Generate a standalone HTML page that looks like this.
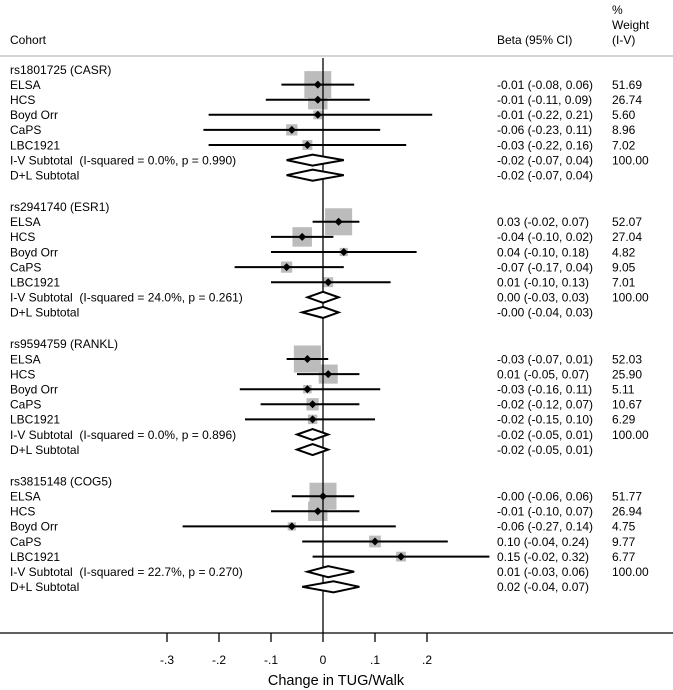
<!DOCTYPE html>
<html><head><meta charset="utf-8"><style>
html,body{margin:0;padding:0;background:#fff;}
svg{display:block;font-family:"Liberation Sans",Arial,sans-serif;}
text{white-space:pre;}
</style></head><body>
<svg id="chart" width="673" height="690" viewBox="0 0 673 690" xmlns="http://www.w3.org/2000/svg">
<g id="hdr" font-size="12" fill="#000">
<text x="10" y="44">Cohort</text>
<text x="497" y="44">Beta (95% CI)</text>
<text x="612" y="14">%</text>
<text x="612" y="29">Weight</text>
<text x="612" y="44">(I-V)</text>
</g>
<line x1="0" y1="56" x2="673" y2="56" stroke="#bbb" stroke-width="1.2"/>
<g id="marks"></g>
<g id="axis"></g>
</svg>
<script>
const groupNames=["rs1801725 (CASR)","rs2941740 (ESR1)","rs9594759 (RANKL)","rs3815148 (COG5)"];
const cohorts=["ELSA","HCS","Boyd Orr","CaPS","LBC1921"];
const betas=[[-0.01,-0.01,-0.01,-0.06,-0.03],[0.03,-0.04,0.04,-0.07,0.01],[-0.03,0.01,-0.03,-0.02,-0.02],[-0.00,-0.01,-0.06,0.10,0.15]];
const lows=[[-0.08,-0.11,-0.22,-0.23,-0.22],[-0.02,-0.10,-0.10,-0.17,-0.10],[-0.07,-0.05,-0.16,-0.12,-0.15],[-0.06,-0.10,-0.27,-0.04,-0.02]];
const highs=[[0.06,0.09,0.21,0.11,0.16],[0.07,0.02,0.18,0.04,0.13],[0.01,0.07,0.11,0.07,0.10],[0.06,0.07,0.14,0.24,0.32]];
const weights=[[51.69,26.74,5.60,8.96,7.02],[52.07,27.04,4.82,9.05,7.01],[52.03,25.90,5.11,10.67,6.29],[51.77,26.94,4.75,9.77,6.77]];
const ivBeta=[-0.02,0.00,-0.02,0.01], ivLow=[-0.07,-0.03,-0.05,-0.03], ivHigh=[0.04,0.03,0.01,0.06];
const dlBeta=[-0.02,-0.00,-0.02,0.02], dlLow=[-0.07,-0.04,-0.05,-0.04], dlHigh=[0.04,0.03,0.01,0.07];
const ivLabels=["I-V Subtotal  (I-squared = 0.0%, p = 0.990)","I-V Subtotal  (I-squared = 24.0%, p = 0.261)","I-V Subtotal  (I-squared = 0.0%, p = 0.896)","I-V Subtotal  (I-squared = 22.7%, p = 0.270)"];
const ticks=[-0.3,-0.2,-0.1,0,0.1,0.2];
const tickLabels=["-.3","-.2","-.1","0",".1",".2"];

const NS="http://www.w3.org/2000/svg";
const xs=v=>323+v*520;
const rowY=(g,r)=>69.5+g*137.2+r*15.1;
const f2=v=>(v<0||Object.is(v,-0)?"-":"")+Math.abs(v).toFixed(2);
const marks=document.getElementById('marks');
function mk(tag,attrs,parent){const e=document.createElementNS(NS,tag);for(const k in attrs)e.setAttribute(k,attrs[k]);(parent||marks).appendChild(e);return e;}
function txt(x,y,s,parent){const t=mk('text',{x:x,y:y+4.3,'font-size':12},parent);t.textContent=s;return t;}
const fmtCI=(b,l,h)=>f2(b)+" ("+f2(l)+", "+f2(h)+")";

for(let g=0;g<4;g++){
 for(let i=0;i<5;i++){
  const s=3.75*Math.sqrt(weights[g][i]);const y=rowY(g,i+1);
  const b=mk('rect',{x:xs(betas[g][i])-s/2,y:y-s/2,width:s,height:s,fill:'#bcbcbc'});
  
  
 }
}
const zl=mk('line',{x1:xs(0),y1:58,x2:xs(0),y2:633,stroke:'#000','stroke-width':1.3});


for(let g=0;g<4;g++){
 const gt=txt(10,rowY(g,0),groupNames[g]);
 
 
 for(let i=0;i<5;i++){
  const y=rowY(g,i+1);
  const l=txt(10,y,cohorts[i]);
  
  
  const ln=mk('line',{x1:xs(lows[g][i]),y1:y,x2:xs(highs[g][i]),y2:y,stroke:'#000','stroke-width':2});
  
  
  const d=xs(betas[g][i]);
  const p=mk('polygon',{points:(d-4)+","+y+" "+d+","+(y-4)+" "+(d+4)+","+y+" "+d+","+(y+4),fill:'#000'});
  
  
  const ct=txt(497,y,fmtCI(betas[g][i],lows[g][i],highs[g][i]));
  
  
  const wt=txt(612,y,weights[g][i].toFixed(2));
  
  
 }
 const sub=[[ivBeta,ivLow,ivHigh,6,ivLabels[g]],[dlBeta,dlLow,dlHigh,7,"D+L Subtotal"]];
 sub.forEach((s,k)=>{
  const y=rowY(g,s[3]);const b=xs(s[0][g]),lo=xs(s[1][g]),hi=xs(s[2][g]);
  const lt=txt(10,y,s[4]);
  
  
  const dm=mk('polygon',{points:lo+","+y+" "+b+","+(y-5.5)+" "+hi+","+y+" "+b+","+(y+5.5),fill:'#fff',stroke:'#000','stroke-width':2});
  
  
  const ct=txt(497,y,fmtCI(s[0][g],s[1][g],s[2][g]));
  
  
  if(k===0){const wt=txt(612,y,"100.00");
   
   }
 });
}
const ax=document.getElementById('axis');


mk('line',{x1:0,y1:633,x2:673,y2:633,stroke:'#000','stroke-width':1.3},ax);
ticks.forEach((t,i)=>{
 const tk=mk('line',{x1:xs(t),y1:633,x2:xs(t),y2:642,stroke:'#000','stroke-width':1.3},ax);
 
 
 const tl=mk('text',{x:xs(t),y:664,'font-size':12,'text-anchor':'middle'},ax);
 tl.textContent=tickLabels[i];
 
 
});
const at=mk('text',{x:336,y:685,'font-size':14.5,'text-anchor':'middle'},ax);
at.textContent="Change in TUG/Walk";


</script>
</body></html>
